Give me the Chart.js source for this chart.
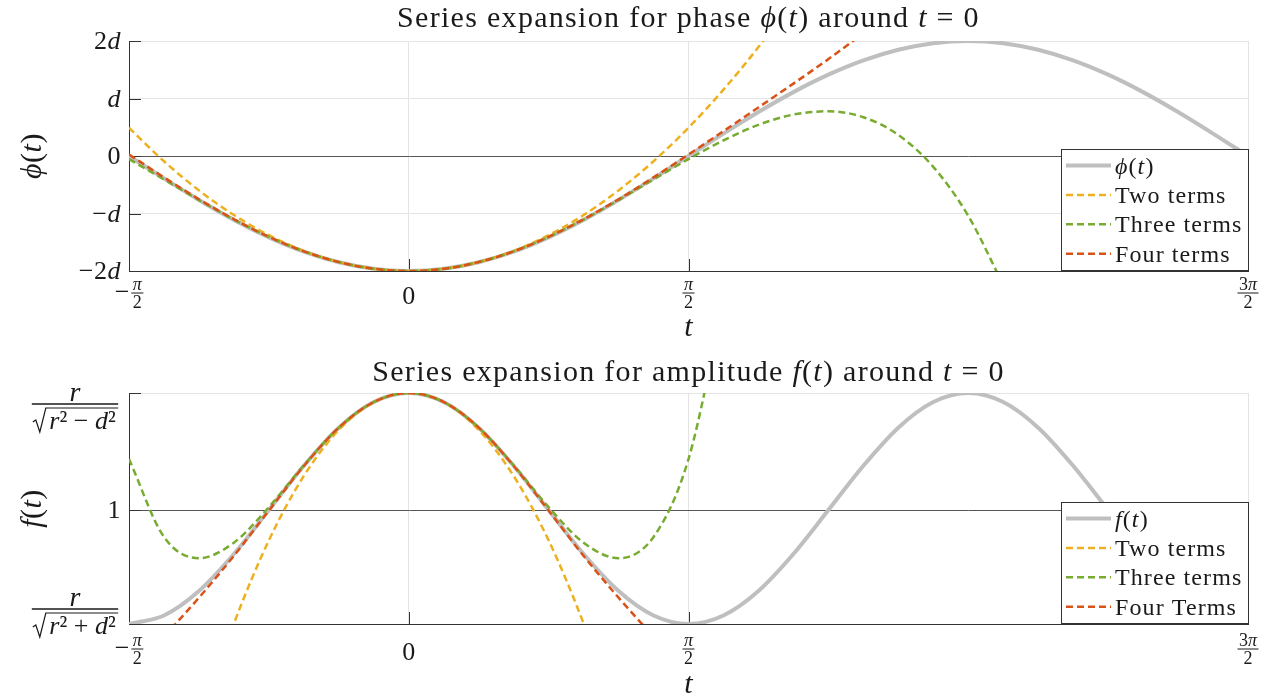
<!DOCTYPE html>
<html>
<head>
<meta charset="utf-8">
<script src="https://cdn.jsdelivr.net/npm/chart.js@4.4.0/dist/chart.umd.min.js"></script>
<style>
    html, body { margin: 0; padding: 0; background: #fff; }
    #conteudo { position: relative; width: 1269px; height: 698px; }
    .painel { position: absolute; left: 0; width: 1269px; }
    #painel_fase { top: 0; height: 345px; }
    #painel_amp { top: 345px; height: 353px; }
</style>
</head>
<body>
<div id="conteudo">
    <div class="painel" id="painel_fase"><canvas id="grafico_fase"></canvas></div>
    <div class="painel" id="painel_amp"><canvas id="grafico_amp"></canvas></div>
</div>
<script>
// --- Dados ---
// t em unidades de pi, passo de pi/16
const tGrid = [-0.5, -0.4375, -0.375, -0.3125, -0.25, -0.1875, -0.125, -0.0625, 0,
    0.0625, 0.125, 0.1875, 0.25, 0.3125, 0.375, 0.4375, 0.5,
    0.5625, 0.625, 0.6875, 0.75, 0.8125, 0.875, 0.9375, 1,
    1.0625, 1.125, 1.1875, 1.25, 1.3125, 1.375, 1.4375, 1.5];

const xTicks = [-0.5, 0, 0.5, 1.5];
const xTickLabels = ['−*π*/2', '0', '*π*/2', '3*π*/2'];

// fase em unidades de d
const faseReal = [0, -0.390, -0.765, -1.111, -1.414, -1.663, -1.848, -1.962, -2,
    -1.962, -1.848, -1.663, -1.414, -1.111, -0.765, -0.390, 0,
    0.390, 0.765, 1.111, 1.414, 1.663, 1.848, 1.962, 2,
    1.962, 1.848, 1.663, 1.414, 1.111, 0.765, 0.390, 0];
const faseDois = [0.492, -0.092, -0.598, -1.027, -1.377, -1.650, -1.844, -1.961, -2,
    -1.961, -1.844, -1.650, -1.377, -1.027, -0.598, -0.092, 0.492,
    1.154, 1.894, 2.712, null, null, null, null, null,
    null, null, null, null, null, null, null, null];
const faseTres = [-0.054, -0.408, -0.766, -1.105, -1.407, -1.658, -1.845, -1.961, -2,
    -1.961, -1.845, -1.658, -1.407, -1.105, -0.766, -0.408, -0.054,
    0.271, 0.541, 0.721, 0.778, 0.674, 0.367, -0.189, -1.041,
    -2.241, null, null, null, null, null, null, null];
const faseQuatro = [0.026, -0.372, -0.752, -1.100, -1.406, -1.658, -1.845, -1.961, -2,
    -1.961, -1.845, -1.658, -1.406, -1.100, -0.752, -0.372, 0.026,
    0.432, 0.845, 1.259, 1.685, 2.140, 2.654, null, null,
    null, null, null, null, null, null, null, null];
const faseTicks = [-2, -1, 0, 1, 2];
const faseTickLabels = ['−2*d*', '−*d*', '0', '*d*', '2*d*'];
const faseLegenda = ['*ϕ*(*t*)', 'Two terms', 'Three terms', 'Four terms'];

// amplitude normalizada: 0 = r/sqrt(r²+d²), 1 = r/sqrt(r²-d²)
const ampReal = [0, 0.037, 0.143, 0.303, 0.493, 0.685, 0.850, 0.961, 1,
    0.961, 0.850, 0.685, 0.493, 0.303, 0.143, 0.037, 0,
    0.037, 0.143, 0.303, 0.493, 0.685, 0.850, 0.961, 1,
    0.961, 0.850, 0.685, 0.493, 0.303, 0.143, 0.037, 0];
const ampDois = [null, null, -0.436, 0.002, 0.362, 0.641, 0.840, 0.960, 1,
    0.960, 0.840, 0.641, 0.362, 0.002, -0.436, null, null,
    null, null, null, null, null, null, null, null,
    null, null, null, null, null, null, null, null];
const ampTres = [0.714, 0.377, 0.285, 0.352, 0.506, 0.687, 0.850, 0.961, 1,
    0.961, 0.850, 0.687, 0.506, 0.352, 0.285, 0.377, 0.714,
    1.395, null, null, null, null, null, null, null,
    null, null, null, null, null, null, null, null];
const ampQuatro = [null, -0.055, 0.114, 0.295, 0.491, 0.684, 0.850, 0.961, 1,
    0.961, 0.850, 0.684, 0.491, 0.295, 0.114, -0.055, null,
    null, null, null, null, null, null, null, null,
    null, null, null, null, null, null, null, null];
const ampTicks = [0, 0.493, 1];
const ampTickLabels = ['*r*/√*r*² + *d*²', '1', '*r*/√*r*² − *d*²'];
const ampLegenda = ['*f*(*t*)', 'Two terms', 'Three terms', 'Four Terms'];

// --- Estilos ---
const CORES = ['#bfbfbf', '#edb120', '#77ac30', '#d95319'];
const COR_TEXTO = '#1a1a1a';
const COR_EIXO = '#333333';
const COR_GRADE = '#e4e4e4';
const SERIFA = '"Liberation Serif", "DejaVu Serif", serif';

// --- Texto com trechos em itálico ('*' alterna o estilo) ---
function fonte(tam, italico) {
    return (italico ? 'italic ' : '') + tam + 'px ' + SERIFA;
}

function partes(texto) {
    return texto.split('*').map((s, i) => ({ s: s, it: i % 2 === 1 })).filter(p => p.s.length > 0);
}

function medir(ctx, texto, tam, esp) {
    ctx.letterSpacing = (esp || 0) + 'px';
    let w = 0;
    partes(texto).forEach(p => {
        ctx.font = fonte(tam, p.it);
        w += ctx.measureText(p.s).width;
    });
    return w;
}

function escrever(ctx, texto, x, y, tam, alinhar, esp) {
    const w = medir(ctx, texto, tam, esp);
    let cx = x;
    if (alinhar === 'right') cx = x - w;
    if (alinhar === 'center') cx = x - w / 2;
    ctx.textAlign = 'left';
    ctx.textBaseline = 'alphabetic';
    ctx.letterSpacing = (esp || 0) + 'px';
    partes(texto).forEach(p => {
        ctx.font = fonte(tam, p.it);
        ctx.fillText(p.s, cx, y);
        cx += ctx.measureText(p.s).width;
    });
    ctx.letterSpacing = '0px';
    return w;
}

// fração 'num/den', com menos opcional na frente e raiz opcional no denominador
function fracao(ctx, rotulo, cx, yBarra, tam) {
    let sinal = '';
    if (rotulo.startsWith('−')) {
        sinal = '−';
        rotulo = rotulo.slice(1);
    }
    const [num, den] = rotulo.split('/');
    const raiz = den.startsWith('√');
    const corpo = raiz ? den.slice(1) : den;
    const wn = medir(ctx, num, tam);
    const wc = medir(ctx, corpo, tam);
    const wd = raiz ? wc + 17 : wc;
    const wf = Math.max(wn, wd) + 3;
    const ts = tam * 1.45;
    const ws = sinal ? medir(ctx, sinal, ts) + 2 : 0;
    const x0 = cx - (ws + wf) / 2;
    if (sinal) escrever(ctx, sinal, x0, yBarra + ts * 0.26, ts, 'left');
    const xf = x0 + ws;

    ctx.strokeStyle = COR_TEXTO;
    ctx.lineWidth = raiz ? 1.6 : 1;
    ctx.beginPath();
    ctx.moveTo(xf, yBarra);
    ctx.lineTo(xf + wf, yBarra);
    ctx.stroke();
    escrever(ctx, num, xf + wf / 2, yBarra - 3, raiz ? tam + 2 : tam, 'center');

    if (raiz) {
        const yo = yBarra + 4;
        ctx.lineWidth = 1.2;
        ctx.beginPath();
        ctx.moveTo(xf + 1, yo + 14);
        ctx.lineTo(xf + 4, yo + 12);
        ctx.lineTo(xf + 8, yo + 24);
        ctx.lineTo(xf + 14, yo);
        ctx.lineTo(xf + wf, yo);
        ctx.stroke();
        escrever(ctx, corpo, xf + 15 + (wf - 15) / 2, yo + 21, tam, 'center');
    } else {
        escrever(ctx, den, xf + wf / 2, yBarra + 3 + tam * 0.68, tam, 'center');
    }
}

// --- Montagem de cada painel ---
function montarGrafico(cfg) {
    const datasets = cfg.series.map((valores, i) => ({
        label: cfg.legenda[i],
        data: tGrid.map((t, j) => ({ x: t, y: valores[j] })),
        borderColor: CORES[i],
        borderWidth: i === 0 ? 4 : 2.5,
        borderDash: i === 0 ? [] : [7, 4],
        pointRadius: 0,
        fill: false,
        cubicInterpolationMode: 'monotone',
        order: 4 - i
    }));

    const moldura = {
        id: 'moldura',
        beforeDatasetsDraw(chart) {
            // marcas dos ticks para dentro da área
            const ctx = chart.ctx;
            const area = chart.chartArea;
            const sx = chart.scales.x, sy = chart.scales.y;
            ctx.save();
            ctx.strokeStyle = COR_EIXO;
            ctx.lineWidth = 1;
            ctx.beginPath();
            xTicks.forEach(v => {
                const px = Math.round(sx.getPixelForValue(v)) + 0.5;
                ctx.moveTo(px, area.bottom);
                ctx.lineTo(px, area.bottom - 12);
            });
            cfg.yTicks.forEach(v => {
                const py = Math.round(sy.getPixelForValue(v)) + 0.5;
                ctx.moveTo(area.left, py);
                ctx.lineTo(area.left + 12, py);
            });
            ctx.stroke();
            ctx.restore();
        },
        afterDraw(chart) {
            const ctx = chart.ctx;
            const area = chart.chartArea;
            const sx = chart.scales.x, sy = chart.scales.y;
            const meio = (area.left + area.right) / 2;
            ctx.save();
            ctx.fillStyle = COR_TEXTO;

            // título e rótulos dos eixos
            escrever(ctx, cfg.titulo, meio, area.top + cfg.tituloDy, 30, 'center', 1.3);
            escrever(ctx, '*t*', meio, area.bottom + cfg.xTituloDy, 30, 'center');
            ctx.save();
            ctx.translate(32, (area.top + area.bottom) / 2);
            ctx.rotate(-Math.PI / 2);
            escrever(ctx, cfg.yTitulo, 0, 9, 30, 'center', 0.5);
            ctx.restore();

            // rótulos do eixo x
            xTicks.forEach((v, i) => {
                const px = sx.getPixelForValue(v);
                const rotulo = xTickLabels[i];
                if (rotulo.includes('/')) {
                    fracao(ctx, rotulo, px, area.bottom + cfg.xFracDy, 18);
                } else {
                    escrever(ctx, rotulo, px, area.bottom + cfg.xFracDy + 11, 26, 'center');
                }
            });

            // rótulos do eixo y
            cfg.yTicks.forEach((v, i) => {
                const py = sy.getPixelForValue(v);
                const rotulo = cfg.yTickLabels[i];
                if (rotulo.includes('/')) {
                    const yBarra = v === 1 ? py + 11 : py - 15;
                    fracao(ctx, rotulo, area.left - 54, yBarra, 26);
                } else {
                    escrever(ctx, rotulo, area.left - 8, py + 8, 26, 'right', 0.5);
                }
            });

            // legenda no canto inferior direito
            const lx = area.right - 187, ly = area.bottom - 122;
            ctx.fillStyle = '#ffffff';
            ctx.fillRect(lx, ly, 188, 122);
            ctx.strokeStyle = COR_EIXO;
            ctx.lineWidth = 1;
            ctx.strokeRect(lx + 0.5, ly + 0.5, 187, 121);
            chart.data.datasets.forEach((ds, i) => {
                const y = ly + 16.5 + i * 29.4;
                ctx.strokeStyle = ds.borderColor;
                ctx.lineWidth = ds.borderWidth;
                ctx.setLineDash(ds.borderDash);
                ctx.beginPath();
                ctx.moveTo(lx + 5, y);
                ctx.lineTo(lx + 50, y);
                ctx.stroke();
                ctx.setLineDash([]);
                ctx.fillStyle = COR_TEXTO;
                escrever(ctx, ds.label, lx + 54, y + 8, 24, 'left', 1.1);
            });
            ctx.restore();
        }
    };

    return new Chart(document.getElementById(cfg.canvas), {
        type: 'line',
        data: { datasets: datasets },
        options: {
            responsive: true,
            maintainAspectRatio: false,
            animation: false,
            events: [],
            layout: { padding: cfg.padding },
            plugins: {
                legend: { display: false },
                tooltip: { enabled: false }
            },
            scales: {
                x: {
                    type: 'linear',
                    min: -0.5,
                    max: 1.5,
                    afterBuildTicks: (escala) => {
                        escala.ticks = xTicks.map(v => ({ value: v }));
                    },
                    afterFit: (escala) => { escala.height = 0; },
                    ticks: { display: false },
                    grid: { color: COR_GRADE, lineWidth: 1, drawTicks: false },
                    border: { display: true, color: COR_EIXO, width: 1 }
                },
                y: {
                    type: 'linear',
                    min: cfg.yMin,
                    max: cfg.yMax,
                    afterBuildTicks: (escala) => {
                        escala.ticks = cfg.yTicks.map(v => ({ value: v }));
                    },
                    afterFit: (escala) => { escala.width = 0; },
                    ticks: { display: false },
                    grid: {
                        color: (c) => (c.tick && c.tick.value === cfg.linhaRef) ? '#555555' : COR_GRADE,
                        lineWidth: 1,
                        drawTicks: false
                    },
                    border: { display: true, color: COR_EIXO, width: 1 }
                }
            }
        },
        plugins: [moldura]
    });
}

const graficoFase = montarGrafico({
    canvas: 'grafico_fase',
    series: [faseReal, faseDois, faseTres, faseQuatro],
    legenda: faseLegenda,
    yMin: -2,
    yMax: 2,
    yTicks: faseTicks,
    yTickLabels: faseTickLabels,
    linhaRef: 0,
    titulo: 'Series expansion for phase *ϕ*(*t*) around *t* = 0',
    yTitulo: '*ϕ*(*t*)',
    tituloDy: -14,
    xTituloDy: 65,
    xFracDy: 22,
    padding: { left: 129, right: 21, top: 41, bottom: 74 }
});

const graficoAmp = montarGrafico({
    canvas: 'grafico_amp',
    series: [ampReal, ampDois, ampTres, ampQuatro],
    legenda: ampLegenda,
    yMin: 0,
    yMax: 1,
    yTicks: ampTicks,
    yTickLabels: ampTickLabels,
    linhaRef: 0.493,
    titulo: 'Series expansion for amplitude *f*(*t*) around *t* = 0',
    yTitulo: '*f*(*t*)',
    tituloDy: -12,
    xTituloDy: 69,
    xFracDy: 25,
    padding: { left: 129, right: 21, top: 48, bottom: 74 }
});
</script>
</body>
</html>
